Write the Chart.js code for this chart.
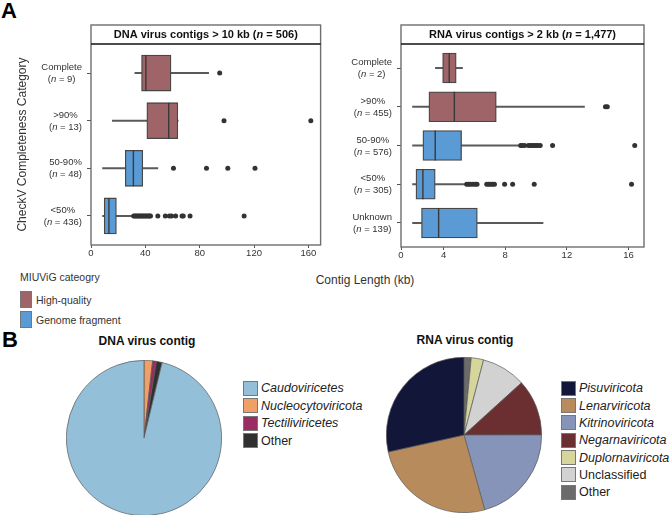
<!DOCTYPE html>
<html>
<head>
<meta charset="utf-8">
<script src="https://cdn.jsdelivr.net/npm/chart.js@4.4.1/dist/chart.umd.min.js"></script>
<style>
  html, body { margin: 0; padding: 0; background: #fff; }
  body { width: 669px; height: 515px; position: relative; overflow: hidden;
         font-family: "Liberation Sans", Arial, sans-serif; color: #222; }
  .abs { position: absolute; }
  canvas { position: absolute; }
  .letter { font-weight: bold; color: #000; line-height: 1; }
  .pie-title { font-weight: bold; font-size: 12px; color: #111; width: 200px; text-align: center; line-height: 14px; }
  .xtitle { font-size: 12px; color: #333; width: 200px; text-align: center; line-height: 14px; }
  .miu-title { font-size: 10.5px; color: #333; line-height: 12px; }
  .row { display: flex; align-items: center; }
  .sw { display: inline-block; box-sizing: border-box; border: 0.7px solid #777; }
  .miu .row { height: 20px; font-size: 10.5px; color: #333; }
  .miu .sw { width: 12px; height: 17px; margin-right: 4px; }
  .pie-legend .row { font-size: 12.5px; color: #222; }
  .pie-legend .sw { width: 15px; height: 15px; margin-right: 3px; }
  .it { font-style: italic; }
</style>
</head>
<body>
<div class="abs letter" style="left:1px; top:0px; font-size:22px">A</div>
<div class="abs letter" style="left:2px; top:329px; font-size:22px">B</div>

<canvas id="dnaBox" width="340" height="265" style="left:0; top:0"></canvas>
<canvas id="rnaBox" width="339" height="265" style="left:330px; top:0"></canvas>

<div class="abs miu-title" style="left:20px; top:271px">MIUViG cateogry</div>
<div class="abs miu" id="miuLegend" style="left:20px; top:289.5px"></div>
<div class="abs xtitle" style="left:265px; top:273px">Contig Length (kb)</div>

<div class="abs pie-title" style="left:47px; top:334px">DNA virus contig</div>
<div class="abs pie-title" style="left:365px; top:333px">RNA virus contig</div>
<canvas id="dnaPie" width="156" height="156" style="left:66px; top:360px"></canvas>
<canvas id="rnaPie" width="156" height="156" style="left:386px; top:357px"></canvas>
<div class="abs pie-legend" id="dnaLegend" style="left:243px; top:379.25px"></div>
<div class="abs pie-legend" id="rnaLegend" style="left:561px; top:379.6px"></div>

<script>
// ---- panel A: DNA virus contigs (kb) ----
const dnaCats = ['Complete', '>90%', '50-90%', '<50%'];
const dnaCounts = [9, 13, 48, 436];
const dnaLow = [32.3, 15.7, 8.5, 8.5];
const dnaQ1 = [37.2, 41.1, 25.2, 9.7];
const dnaMedian = [40.4, 57.2, 31.2, 13.2];
const dnaQ3 = [58.9, 63.9, 38.1, 18.7];
const dnaHigh = [86.6, 64.2, 49.2, 30.7];
const dnaOutliers = [
    [94.7],
    [97.9, 161.8],
    [60.7, 85, 100.7, 120.7],
    [31.4, 32.3, 33.2, 34.1, 35, 35.9, 36.8, 37.7, 38.6, 39.5, 40.4, 41.3, 42.2, 43.1, 43.8,
     49.2, 54.7, 57.7, 59.3, 62.3, 67, 67.9, 72.9, 112.7]
];
const dnaQuality = ['High-quality', 'High-quality', 'Genome fragment', 'Genome fragment'];
const dnaTicks = [0, 40, 80, 120, 160];
const dnaTitle = [['DNA virus contigs > 10 kb (', false], ['n', true], [' = 506)', false]];

// ---- panel A: RNA virus contigs (kb) ----
const rnaCats = ['Complete', '>90%', '50-90%', '<50%', 'Unknown'];
const rnaCounts = [2, 455, 576, 305, 139];
const rnaLow = [3.47, 1.99, 1.99, 1.99, 1.99];
const rnaQ1 = [3.94, 3.05, 2.66, 2.21, 2.57];
const rnaMedian = [4.37, 4.7, 3.46, 2.66, 3.68];
const rnaQ3 = [4.82, 7.42, 5.17, 3.46, 6.19];
const rnaHigh = [5.23, 13.14, 8.87, 5.41, 10.45];
const rnaOutliers = [
    [],
    [14.5, 14.62],
    [9.0, 9.12, 9.25, 9.5, 9.62, 9.75, 9.88, 10.0, 10.12, 10.27, 11.07, 16.4],
    [5.5, 5.62, 5.75, 5.9, 6.05, 6.17, 6.8, 6.92, 7.05, 7.18, 7.3, 7.96, 8.48, 9.88, 16.19],
    []
];
const rnaQuality = ['High-quality', 'High-quality', 'Genome fragment', 'Genome fragment', 'Genome fragment'];
const rnaTicks = [0, 4, 8, 12, 16];
const rnaTitle = [['RNA virus contigs > 2 kb (', false], ['n', true], [' = 1,477)', false]];

const qualityNames = ['High-quality', 'Genome fragment'];
const qualityColors = ['#9f6467', '#5b9bd5'];

// ---- panel B: pies (clockwise from 12 o'clock) ----
const dnaPieLabels = ['Nucleocytoviricota', 'Tectiliviricetes', 'Other', 'Caudoviricetes'];
const dnaPieCounts = [9, 4, 6, 487];
const dnaPieColors = ['#f0a066', '#9b2b62', '#303030', '#93bfd9'];
const dnaLegendOrder = ['Caudoviricetes', 'Nucleocytoviricota', 'Tectiliviricetes', 'Other'];

const rnaPieLabels = ['Other', 'Duplornaviricota', 'Unclassified', 'Negarnaviricota',
                      'Kitrinoviricota', 'Lenarviricota', 'Pisuviricota'];
const rnaPieCounts = [22, 38, 136, 173, 306, 381, 421];
const rnaPieColors = ['#6b6b6b', '#d5d59c', '#d2d2d2', '#6b2f31', '#8594b8', '#b88b5d', '#121638'];
const rnaLegendOrder = ['Pisuviricota', 'Lenarviricota', 'Kitrinoviricota', 'Negarnaviricota',
                        'Duplornaviricota', 'Unclassified', 'Other'];
const plainNames = ['Other', 'Unclassified'];

const FONT = '"Liberation Sans", Arial, sans-serif';

// 画混合字体(斜体 n)的一行文字, 居中
function drawParts(ctx, parts, cx, cy, size, weight, color) {
    const fonts = parts.map(p => (p[1] ? 'italic ' : '') + weight + ' ' + size + 'px ' + FONT);
    const widths = parts.map((p, i) => { ctx.font = fonts[i]; return ctx.measureText(p[0]).width; });
    const total = widths.reduce((a, b) => a + b, 0);
    let x = cx - total / 2;
    ctx.fillStyle = color;
    ctx.textAlign = 'left';
    ctx.textBaseline = 'middle';
    parts.forEach((p, i) => { ctx.font = fonts[i]; ctx.fillText(p[0], x, cy); x += widths[i]; });
}

function partsWidth(ctx, parts, size, weight) {
    let w = 0;
    parts.forEach(p => {
        ctx.font = (p[1] ? 'italic ' : '') + weight + ' ' + size + 'px ' + FONT;
        w += ctx.measureText(p[0]).width;
    });
    return w;
}

// 边框 + 标题条 + 分类标签
const panelFrame = {
    id: 'panelFrame',
    afterDraw(chart, args, opts) {
        const ctx = chart.ctx;
        const a = chart.chartArea;
        const top = a.top - opts.strip;
        ctx.save();
        ctx.lineWidth = 1.4;
        ctx.strokeStyle = '#6e6e6e';
        ctx.strokeRect(a.left, top, a.right - a.left, a.bottom - top);
        ctx.beginPath();
        ctx.moveTo(a.left, a.top);
        ctx.lineTo(a.right, a.top);
        ctx.strokeStyle = '#111';
        ctx.lineWidth = 1.5;
        ctx.stroke();
        drawParts(ctx, opts.title, (a.left + a.right) / 2, top + opts.strip / 2 + 0.5, 11, 'bold', '#111');

        const yScale = chart.scales.y;
        opts.cats.forEach((cat, i) => {
            const py = yScale.getPixelForValue(i);
            const line2 = [['(', false], ['n', true], [' = ' + opts.counts[i] + ')', false]];
            const w1 = partsWidth(ctx, [[cat, false]], 9.5, 'normal');
            const w2 = partsWidth(ctx, line2, 9.5, 'normal');
            const cx = a.left - 9 - Math.max(w1, w2) / 2;
            drawParts(ctx, [[cat, false]], cx, py - 5.5, 9.5, 'normal', '#333');
            drawParts(ctx, line2, cx, py + 6.5, 9.5, 'normal', '#333');
        });
        ctx.restore();
    }
};

function boxDatasets(low, q1, med, q3, high, outliers, quality, thick) {
    const idx = low.map((_, i) => i);
    const colors = quality.map(q => qualityColors[qualityNames.indexOf(q)]);
    return [{
        type: 'bar', indexAxis: 'y', grouped: false, order: 3,
        data: idx.map(i => ({ x: [low[i], high[i]], y: i })),
        backgroundColor: '#5a5a5a', borderWidth: 0, barThickness: 1.3
    }, {
        type: 'bar', indexAxis: 'y', grouped: false, order: 2,
        data: idx.map(i => ({ x: [q1[i], q3[i]], y: i })),
        backgroundColor: colors, borderColor: '#474747', borderWidth: 1.3,
        borderSkipped: false, barThickness: thick
    }, {
        type: 'scatter', order: 1,
        data: idx.map(i => ({ x: med[i], y: i })),
        pointStyle: 'line', rotation: 90, radius: thick / 2, hoverRadius: thick / 2,
        borderColor: '#3a3a3a', borderWidth: 1.4
    }, {
        type: 'scatter', order: 0,
        data: outliers.flatMap((arr, i) => arr.map(v => ({ x: v, y: i }))),
        pointStyle: 'circle', radius: 2.5, hoverRadius: 2.5,
        backgroundColor: '#333', borderWidth: 0
    }];
}

function boxChart(id, cfg) {
    return new Chart(document.getElementById(id), {
        type: 'scatter',
        data: { datasets: boxDatasets(cfg.low, cfg.q1, cfg.med, cfg.q3, cfg.high, cfg.outliers, cfg.quality, cfg.thick) },
        options: {
            responsive: false,
            animation: false,
            events: [],
            layout: { padding: { top: 44, right: cfg.padRight, left: 0, bottom: 0 } },
            plugins: {
                legend: { display: false },
                tooltip: { enabled: false },
                panelFrame: { strip: 19, title: cfg.title, cats: cfg.cats, counts: cfg.counts }
            },
            scales: {
                x: {
                    type: 'linear', min: cfg.xMin, max: cfg.xMax, offset: false,
                    grid: { drawOnChartArea: false, drawTicks: true, tickLength: 3, color: '#555', offset: false },
                    border: { display: false },
                    ticks: {
                        font: { size: 9.5, family: FONT }, color: '#333', padding: 0, maxRotation: 0,
                        callback: (v, i) => cfg.ticks[i]
                    },
                    afterBuildTicks: s => { s.ticks = cfg.ticks.map(v => ({ value: Math.max(v, cfg.xMin) })); },
                    afterFit: s => { s.height = cfg.xHeight; }
                },
                y: {
                    type: 'linear', reverse: true, min: cfg.yMin, max: cfg.yMax, offset: false,
                    grid: { drawOnChartArea: false, drawTicks: true, tickLength: 4, color: '#555', offset: false },
                    border: { display: false },
                    ticks: { display: false },
                    title: {
                        display: !!cfg.yTitle, text: cfg.yTitle || '',
                        font: { size: 12, family: FONT }, color: '#333', padding: { top: 15, bottom: 0 }
                    },
                    afterBuildTicks: s => { s.ticks = cfg.cats.map((_, i) => ({ value: i })); },
                    afterFit: s => { s.width = cfg.yWidth; }
                }
            }
        },
        plugins: [panelFrame]
    });
}

function pieChart(id, labels, counts, colors) {
    return new Chart(document.getElementById(id), {
        type: 'pie',
        data: {
            labels: labels,
            datasets: [{ data: counts, backgroundColor: colors, borderColor: '#5a5a5a', borderWidth: 0.7 }]
        },
        options: {
            responsive: false,
            animation: false,
            events: [],
            layout: { padding: 0 },
            plugins: { legend: { display: false }, tooltip: { enabled: false } }
        }
    });
}

function buildLegend(elId, names, colorOf) {
    const el = document.getElementById(elId);
    names.forEach(name => {
        const row = document.createElement('div');
        row.className = 'row';
        const cls = plainNames.includes(name) || qualityNames.includes(name) ? '' : 'it';
        row.innerHTML = `<span class="sw" style="background:${colorOf(name)}"></span><span class="${cls}">${name}</span>`;
        el.appendChild(row);
    });
}

document.addEventListener('DOMContentLoaded', function() {
    boxChart('dnaBox', {
        low: dnaLow, q1: dnaQ1, med: dnaMedian, q3: dnaQ3, high: dnaHigh, outliers: dnaOutliers,
        quality: dnaQuality, cats: dnaCats, counts: dnaCounts, ticks: dnaTicks, title: dnaTitle,
        thick: 36, xMin: 0, xMax: 169, yMin: -0.61, yMax: 3.61,
        padRight: 6, xHeight: 20, yWidth: 91, yTitle: 'CheckV Completeness Category'
    });
    boxChart('rnaBox', {
        low: rnaLow, q1: rnaQ1, med: rnaMedian, q3: rnaQ3, high: rnaHigh, outliers: rnaOutliers,
        quality: rnaQuality, cats: rnaCats, counts: rnaCounts.map(c => c.toLocaleString('en-US')),
        ticks: rnaTicks, title: rnaTitle,
        thick: 30, xMin: 1.24, xMax: 17, yMin: -0.62, yMax: 4.62,
        padRight: 25, xHeight: 18, yWidth: 71, yTitle: ''
    });
    pieChart('dnaPie', dnaPieLabels, dnaPieCounts, dnaPieColors);
    pieChart('rnaPie', rnaPieLabels, rnaPieCounts, rnaPieColors);

    buildLegend('miuLegend', qualityNames, n => qualityColors[qualityNames.indexOf(n)]);
    buildLegend('dnaLegend', dnaLegendOrder, n => dnaPieColors[dnaPieLabels.indexOf(n)]);
    buildLegend('rnaLegend', rnaLegendOrder, n => rnaPieColors[rnaPieLabels.indexOf(n)]);
    document.querySelectorAll('#dnaLegend .row').forEach(r => r.style.height = '17.5px');
    document.querySelectorAll('#rnaLegend .row').forEach(r => r.style.height = '17.33px');
});
</script>
</body>
</html>
